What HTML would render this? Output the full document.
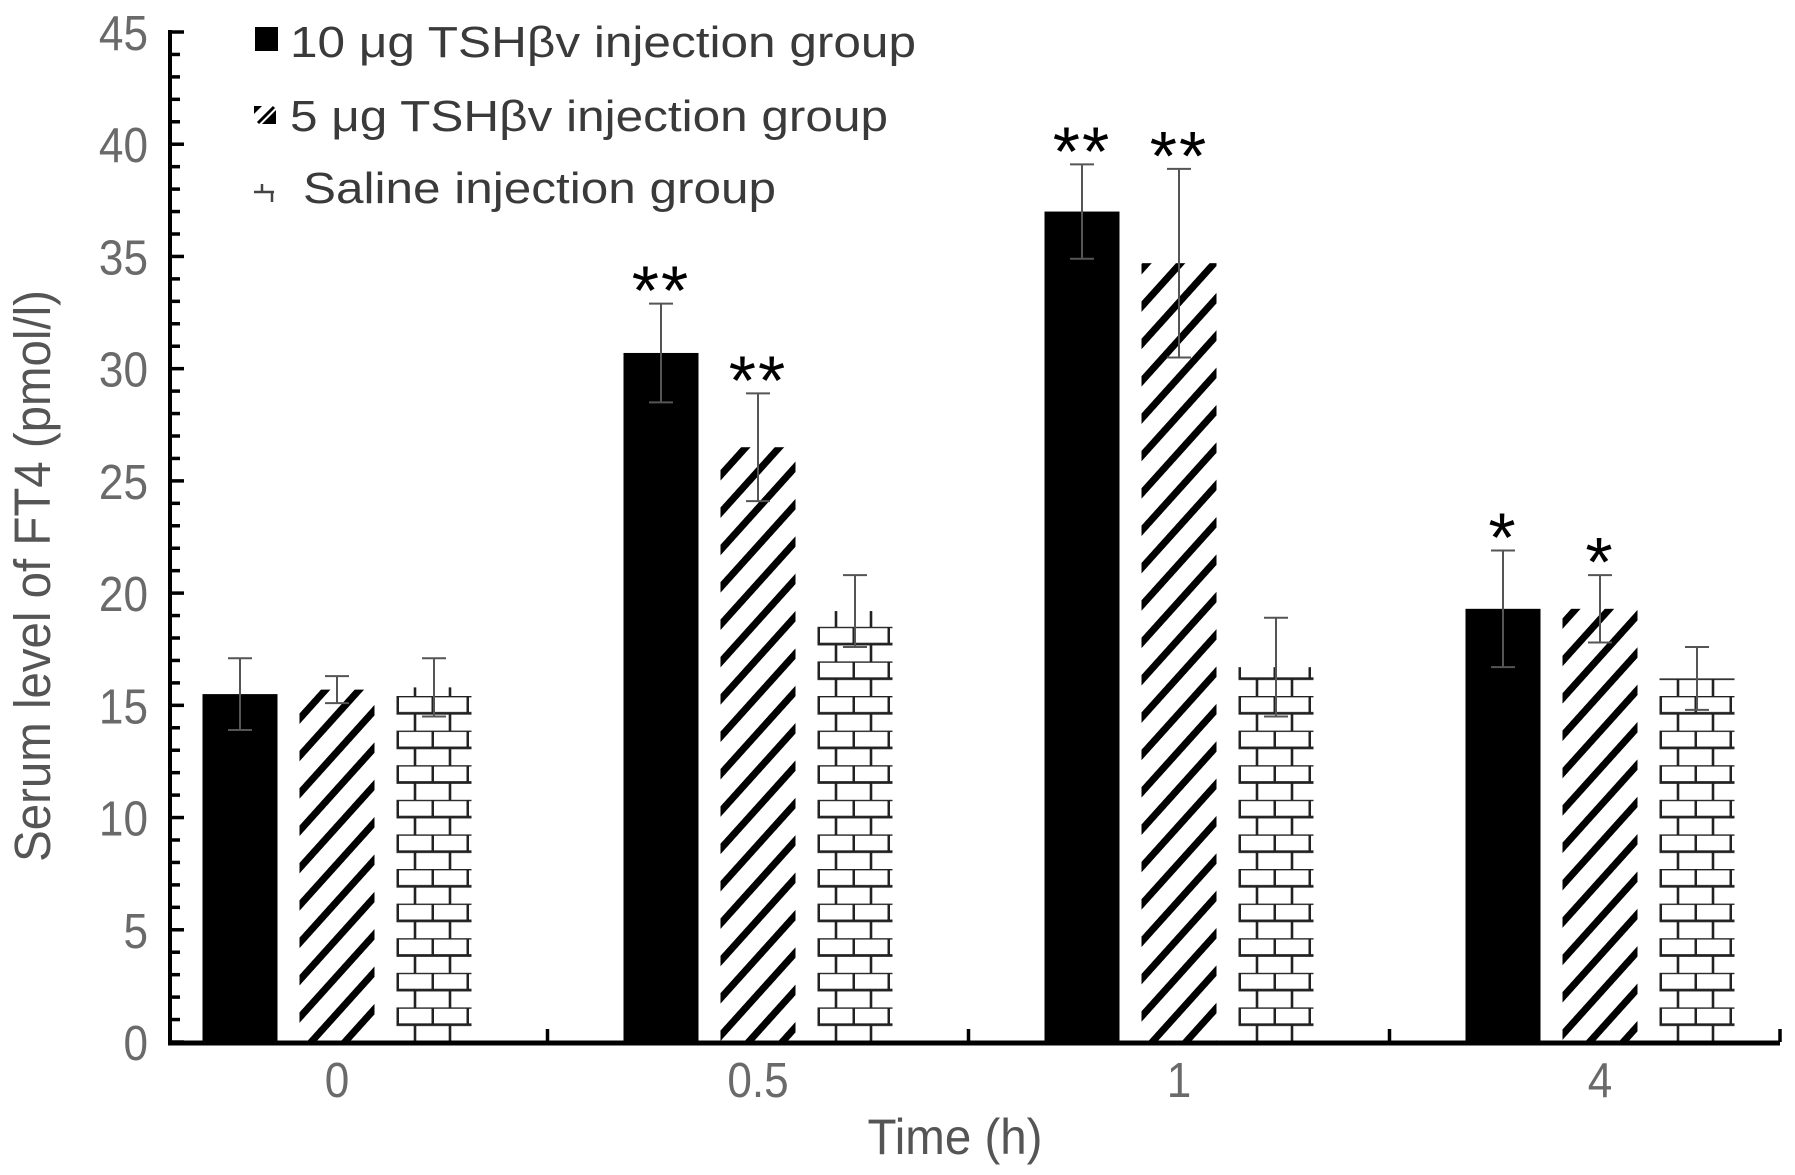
<!DOCTYPE html>
<html><head><meta charset="utf-8">
<style>
html,body{margin:0;padding:0;background:#fff;}
svg{display:block;}
text{font-family:"Liberation Sans",sans-serif;}
</style></head>
<body>
<svg id="chart" width="1795" height="1175" viewBox="0 0 1795 1175" xmlns="http://www.w3.org/2000/svg">
<defs>
  <pattern id="hatch" patternUnits="userSpaceOnUse" width="40" height="25" patternTransform="rotate(-48)">
    <rect x="0" y="0" width="40" height="7" fill="#000"/>
  </pattern>
</defs>
<g id="plot"></g>
<text x="955" y="1154" text-anchor="middle" font-size="50" fill="#555" transform="translate(955 0) scale(0.95 1) translate(-955 0)">Time (h)</text>
<text x="0" y="0" text-anchor="middle" font-size="51" fill="#555" transform="translate(50 576) rotate(-90) scale(0.93 1)">Serum level of FT4 (pmol/l)</text>
<g>
  <g>
    <rect x="255" y="27" width="23" height="24" fill="#000"/>
    <text x="290" y="57" font-size="44" fill="#3a3a3a" textLength="626" lengthAdjust="spacingAndGlyphs">10 μg TSHβv injection group</text>
  </g>
  <g>
    <path d="M254 106h8l-8 8zM276 110v14h-14z" fill="#000"/>
    <path d="M258 123l16-16" stroke="#000" stroke-width="3"/>
    <text x="290" y="131" font-size="44" fill="#3a3a3a" textLength="598" lengthAdjust="spacingAndGlyphs">5 μg TSHβv injection group</text>
  </g>
  <g>
    <path d="M254 192h20M262 184v8M272 192v10" stroke="#444" stroke-width="2.5" fill="none"/>
    <text x="303" y="203" font-size="44" fill="#3a3a3a" textLength="473" lengthAdjust="spacingAndGlyphs">Saline injection group</text>
  </g>
</g>
</svg>
<script>
const categories = ["0", "0.5", "1", "4"];
const seriesNames = ["10 μg TSHβv injection group", "5 μg TSHβv injection group", "Saline injection group"];
const high10 = [15.5, 30.7, 37.0, 19.3];
const low5 = [15.7, 26.5, 34.7, 19.3];
const saline = [15.8, 19.2, 16.7, 16.2];
const err10 = [1.6, 2.2, 2.1, 2.6];
const err5 = [0.6, 2.4, 4.2, 1.5];
const errSaline = [1.3, 1.6, 2.2, 1.4];
const stars10 = ["", "**", "**", "*"];
const stars5 = ["", "**", "**", "*"];
const starsSaline = ["", "", "", ""];
const yTicks = [0, 5, 10, 15, 20, 25, 30, 35, 40, 45];

const NS = "http://www.w3.org/2000/svg";
const plot = document.getElementById("plot");
const X0 = 170, X1 = 1780, Y0 = 1042, Y45 = 32;
function yScale(v){ return Y0 - v * (Y0 - Y45) / 45; }
function groupCenter(i){ return 337 + 421 * i; }
const BW = 75, PITCH = 97;
function barX(i, s){ return groupCenter(i) + (s - 1) * PITCH - BW / 2; }
function mk(tag, attrs, parent){
  const e = document.createElementNS(NS, tag);
  for (const k in attrs) e.setAttribute(k, attrs[k]);
  (parent || plot).appendChild(e);
  return e;
}

const defs = document.querySelector("defs");
categories.forEach((c, i) => {
  const p = mk("pattern", {id: "brick" + i, patternUnits: "userSpaceOnUse", x: barX(i, 2), y: Y0, width: 35, height: 34.6}, defs);
  
  
  mk("rect", {x: 0, y: 0, width: 35, height: 34.6, fill: "#fff"}, p);
  mk("path", {d: "M0 0H35M0 17.3H35M1.2 0V17.3M18.5 17.3V34.6", stroke: "#222", "stroke-width": 2.6, fill: "none"}, p);
});

const series = [high10, low5, saline];
const errs = [err10, err5, errSaline];
const stars = [stars10, stars5, starsSaline];
const fills = ["#000", "url(#hatch)", null];
const seriesKeys = ["10ug", "5ug", "saline"];

series.forEach((vals, s) => {
  vals.forEach((v, i) => {
    const x = barX(i, s), y = yScale(v);
    const r = mk("rect", {x: x, y: y, width: BW, height: Y0 - y, fill: fills[s] || ("url(#brick" + i + ")")});
    
    
    const cx = x + BW / 2, yt = yScale(v + errs[s][i]), yb = yScale(v - errs[s][i]);
    const eb = mk("path", {d: `M${cx} ${yb}V${yt}M${cx-12} ${yt}H${cx+12}M${cx-12} ${yb}H${cx+12}`, stroke: "#555", "stroke-width": 2, fill: "none"});
    
    
    if (stars[s][i]) {
      const t = mk("text", {x: cx, y: yt + 11, "text-anchor": "middle", "font-size": 70, fill: "#000", "letter-spacing": "2"});
      t.textContent = stars[s][i];
      
      
    }
  });
});

const yax = mk("line", {x1: X0, y1: Y45 - 2, x2: X0, y2: Y0 + 2, stroke: "#000", "stroke-width": 4});


for (let v = 0; v <= 45; v++) {
  const y = yScale(v);
  const tk = mk("line", {x1: X0, y1: y, x2: X0 + (v % 5 === 0 ? 14 : 10), y2: y, stroke: "#000", "stroke-width": 3.5});
  
  
}
yTicks.forEach(v => {
  const t = mk("text", {x: 148, y: yScale(v) + 18, "text-anchor": "end", "font-size": 49, fill: "#6a6a6a", transform: `translate(148 0) scale(0.9 1) translate(-148 0)`});
  t.textContent = v;
  
  
});
const xax = mk("line", {x1: X0 - 2, y1: Y0 + 1, x2: X1, y2: Y0 + 1, stroke: "#000", "stroke-width": 5});


for (let i = 0; i < categories.length; i++) {
  const xd = i < 3 ? (groupCenter(i) + groupCenter(i + 1)) / 2 : X1;
  const d = mk("line", {x1: xd, y1: Y0, x2: xd, y2: Y0 - 13, stroke: "#000", "stroke-width": 3.5});
  
  
  const cx = groupCenter(i);
  const t = mk("text", {x: cx, y: 1097, "text-anchor": "middle", "font-size": 49, fill: "#6a6a6a", transform: `translate(${cx} 0) scale(0.9 1) translate(${-cx} 0)`});
  t.textContent = categories[i];
  
  
}
</script>
</body></html>
